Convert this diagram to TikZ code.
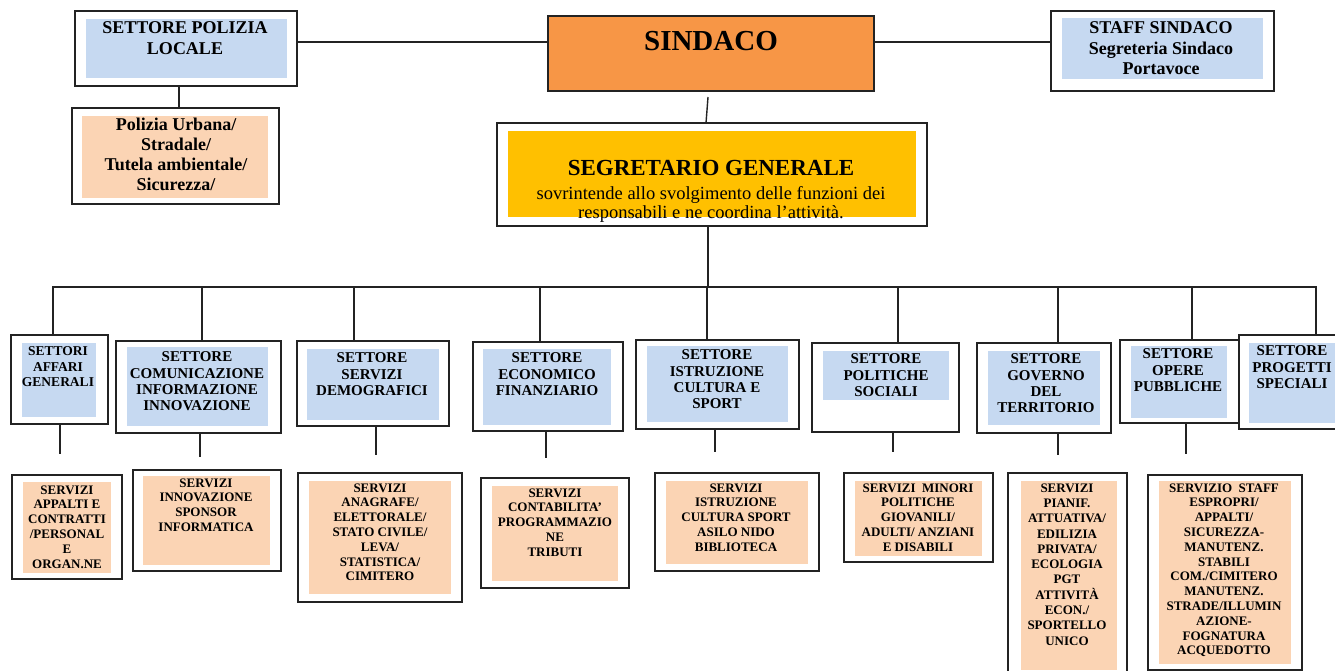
\documentclass[tikz,border=0pt]{standalone}
\usepackage{fontspec}
\setmainfont{Liberation Serif}
\usetikzlibrary{positioning}
\definecolor{sectblue}{RGB}{198,217,241}
\definecolor{servpeach}{RGB}{251,212,180}
\definecolor{mayororange}{RGB}{247,150,70}
\definecolor{secgold}{RGB}{255,192,0}
\definecolor{frameink}{RGB}{35,35,35}

\begin{document}
\begin{tikzpicture}[x=1pt,y=-1pt,
  every node/.style={inner sep=0pt,outer sep=0pt},
  outerbox/.style={draw=frameink,line width=1.5pt,fill=white},
  toptext/.style={font=\fontsize{18}{20.5}\selectfont\bfseries,align=center,anchor=north},
  secttext/.style={font=\fontsize{15}{16.2}\selectfont\bfseries,align=center,anchor=north},
  servtext/.style={font=\fontsize{13}{14.8}\selectfont\bfseries,align=center,anchor=north},
  link/.style={draw=frameink,line width=1.4pt}
]
\useasboundingbox (0,0) rectangle (1335,671);

% top level
\node[outerbox,minimum width=222pt,minimum height=75pt] (pol) at (186,48.5) {};
\fill[sectblue] (86,19) rectangle (287,78);
\node[toptext] (polt) at (185,22) {SETTORE POLIZIA\\LOCALE};
\node[outerbox,minimum width=207pt,minimum height=96pt] (polsub) at (175.5,156) {};
\fill[servpeach] (82,116) rectangle (268,198);
\node[toptext,font=\fontsize{18}{20}\selectfont\bfseries] (polsubt) at (176,118) {Polizia Urbana/\\Stradale/\\Tutela ambientale/\\Sicurezza/};

\node[outerbox,fill=mayororange,minimum width=326pt,minimum height=75pt] (sindaco) at (711,53.5) {};
\node[font=\fontsize{29}{32}\selectfont\bfseries,anchor=north] (sindacot) at (711,31.5) {SINDACO};

\node[outerbox,minimum width=223pt,minimum height=80pt] (staff) at (1162.5,51) {};
\fill[sectblue] (1062,18) rectangle (1263,79);
\node[toptext] (stafft) at (1161,22) {STAFF SINDACO\\Segreteria Sindaco\\Portavoce};

\node[outerbox,minimum width=430pt,minimum height=103pt] (segr) at (712,174.5) {};
\fill[secgold] (508,131) rectangle (916,217);
\node[font=\fontsize{23}{25}\selectfont\bfseries,anchor=north] (segrt) at (711,160.5) {SEGRETARIO GENERALE};
\node[font=\fontsize{18.5}{19}\selectfont,align=center,anchor=north] (segrsub) at (711,186) {sovrintende allo svolgimento delle funzioni dei\\responsabili e ne coordina l'attività.};

% sectors
\node[outerbox,minimum width=97pt,minimum height=89pt] (s1) at (59.5,379.5) {};
\fill[sectblue] (22,343) rectangle (96,417);
\node[secttext,font=\fontsize{13.5}{15.7}\selectfont\bfseries] (s1t) at (58,346.5) {SETTORI\\AFFARI\\GENERALI};

\node[outerbox,minimum width=165pt,minimum height=92pt] (s2) at (198.5,387) {};
\fill[sectblue] (127,347) rectangle (268,426);
\node[secttext] (s2t) at (197,352) {SETTORE\\COMUNICAZIONE\\INFORMAZIONE\\INNOVAZIONE};

\node[outerbox,minimum width=152pt,minimum height=85pt] (s3) at (373,383.5) {};
\fill[sectblue] (307,349) rectangle (439,420);
\node[secttext] (s3t) at (372,353) {SETTORE\\SERVIZI\\DEMOGRAFICI};

\node[outerbox,minimum width=150pt,minimum height=89pt] (s4) at (548,386.5) {};
\fill[sectblue] (483,349) rectangle (611,425);
\node[secttext] (s4t) at (547,353) {SETTORE\\ECONOMICO\\FINANZIARIO};

\node[outerbox,minimum width=163pt,minimum height=89pt] (s5) at (717.5,384.5) {};
\fill[sectblue] (647,346) rectangle (788,422);
\node[secttext] (s5t) at (717,350) {SETTORE\\ISTRUZIONE\\CULTURA E\\SPORT};

\node[outerbox,minimum width=147pt,minimum height=89pt] (s6) at (885.5,387.5) {};
\fill[sectblue] (823,351) rectangle (949,400);
\node[secttext] (s6t) at (886,354) {SETTORE\\POLITICHE\\SOCIALI};

\node[outerbox,minimum width=134pt,minimum height=90pt] (s7) at (1044,388) {};
\fill[sectblue] (988,351) rectangle (1100,425);
\node[secttext] (s7t) at (1046,354) {SETTORE\\GOVERNO\\DEL\\TERRITORIO};

\node[outerbox,minimum width=119pt,minimum height=83pt] (s8) at (1179.5,381.5) {};
\fill[sectblue] (1131,346) rectangle (1227,418);
\node[secttext] (s8t) at (1178,349) {SETTORE\\OPERE\\PUBBLICHE};

\node[outerbox,minimum width=106pt,minimum height=94pt] (s9) at (1292,382) {};
\fill[sectblue] (1249,343) rectangle (1340,423);
\node[secttext] (s9t) at (1292,346) {SETTORE\\PROGETTI\\SPECIALI};

% services
\node[outerbox,minimum width=110pt,minimum height=104pt] (v1) at (67,527) {};
\fill[servpeach] (23,482) rectangle (111,573);
\node[servtext] (v1t) at (67,485.5) {SERVIZI\\APPALTI E\\CONTRATTI\\/PERSONAL\\E\\ORGAN.NE};

\node[outerbox,minimum width=148pt,minimum height=101pt] (v2) at (207,520.5) {};
\fill[servpeach] (143,476) rectangle (270,565);
\node[servtext] (v2t) at (206,478.5) {SERVIZI\\INNOVAZIONE\\SPONSOR\\INFORMATICA};

\node[outerbox,minimum width=164pt,minimum height=129pt] (v3) at (380,537.5) {};
\fill[servpeach] (309,481) rectangle (451,594);
\node[servtext] (v3t) at (380,483.5) {SERVIZI\\ANAGRAFE/\\ELETTORALE/\\STATO CIVILE/\\LEVA/\\STATISTICA/\\CIMITERO};

\node[outerbox,minimum width=148pt,minimum height=110pt] (v4) at (555,533) {};
\fill[servpeach] (492,486) rectangle (618,581);
\node[servtext] (v4t) at (555,488.5) {SERVIZI\\CONTABILITA'\\PROGRAMMAZIO\\NE\\TRIBUTI};

\node[outerbox,minimum width=164pt,minimum height=98pt] (v5) at (737,522) {};
\fill[servpeach] (666,481) rectangle (808,564);
\node[servtext] (v5t) at (736,483.5) {SERVIZI\\ISTRUZIONE\\CULTURA SPORT\\ASILO NIDO\\BIBLIOTECA};

\node[outerbox,minimum width=149pt,minimum height=89pt] (v6) at (918.5,517.5) {};
\fill[servpeach] (855,481) rectangle (982,556);
\node[servtext] (v6t) at (918,483.5) {SERVIZI~~MINORI\\POLITICHE\\GIOVANILI/\\ADULTI/ ANZIANI\\E DISABILI};

\node[outerbox,minimum width=119pt,minimum height=207pt] (v7) at (1067.5,576.5) {};
\fill[servpeach] (1021,481) rectangle (1117,670);
\node[servtext,font=\fontsize{13}{15.3}\selectfont\bfseries] (v7t) at (1067,483.5) {SERVIZI\\PIANIF.\\ATTUATIVA/\\EDILIZIA\\PRIVATA/\\ECOLOGIA\\PGT\\ATTIVITÀ\\ECON./\\SPORTELLO\\UNICO};

\node[outerbox,minimum width=154pt,minimum height=195pt] (v8) at (1225,572.5) {};
\fill[servpeach] (1159,481) rectangle (1291,664);
\node[servtext] (v8t) at (1224,483.5) {SERVIZIO~~STAFF\\ESPROPRI/\\APPALTI/\\SICUREZZA-\\MANUTENZ.\\STABILI\\COM./CIMITERO\\MANUTENZ.\\STRADE/ILLUMIN\\AZIONE-\\FOGNATURA\\ACQUEDOTTO};

% connectors
\coordinate (topline) at (0,42);
\draw[link] (pol.east |- topline) -- (sindaco.west |- topline);
\draw[link] (sindaco.east |- topline) -- (staff.west |- topline);
\draw[link] (pol.south) ++(-7,0) coordinate (pdrop) -- (pdrop |- polsub.north);
\draw[link] (sindaco.south) ++(-3,6) -- ([xshift=-6pt]segr.north);

\coordinate (busL) at (53,287);
\coordinate (busR) at (1316,287);
\draw[link] (segr.south) ++(-4,0) coordinate (sdrop) -- (sdrop |- busL);
\draw[link] (s1.north -| busL) |- (busR) -- (s9.north -| busR);
\foreach \x/\s in {202/s2,354/s3,540/s4,707/s5,898/s6,1058/s7,1192/s8}
  \draw[link] (busL -| \x,0) -- (\s.north -| \x,0);

\foreach \x/\s/\l in {60/s1/30,200/s2/24,376/s3/29,546/s4/27,715/s5/23,893/s6/20,1058/s7/22,1186/s8/31}
  \draw[link] (\s.south -| \x,0) -- ++(0,\l);
\end{tikzpicture}
\end{document}
